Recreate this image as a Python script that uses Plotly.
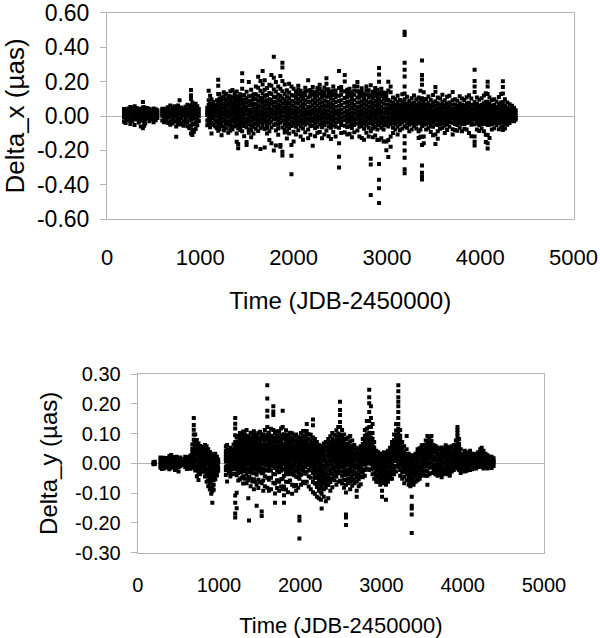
import plotly.graph_objects as go

# ---------------- Delta_x (top panel) ----------------
# observation epochs (JDB-2450000) and the values read at each epoch (in 0.001 uas)
dx_epochs = [
    182, 200, 228, 250, 272, 296, 318, 340, 362, 385, 398, 410, 432, 455, 478, 500, 522, 540,
    592, 612, 635, 655, 678, 700, 722, 742, 762, 778, 798, 820, 842, 862, 882, 900, 915, 932, 950, 968, 984,
    1075, 1090, 1105, 1120, 1140, 1160, 1178, 1192,
    1205, 1228, 1252, 1275, 1300, 1322, 1345, 1368, 1390, 1406, 1428, 1449, 1470, 1496, 1520, 1545, 1570,
    1595, 1620, 1645, 1668, 1690, 1715, 1740, 1762, 1788, 1810, 1835, 1858, 1880, 1905, 1928, 1952, 1977,
    2000, 2025, 2050, 2075, 2100, 2125, 2156, 2180, 2205, 2230, 2255, 2280, 2305, 2330, 2352, 2375, 2400,
    2425, 2450, 2487, 2510, 2548, 2575, 2600, 2625, 2650, 2684, 2705, 2730, 2755, 2780, 2805, 2827, 2850,
    2875, 2898, 2916, 2940, 2965, 2994,
    3015, 3040, 3065, 3090, 3115, 3140, 3165, 3190, 3215, 3240, 3265,
    3290, 3315, 3340, 3360, 3376, 3395, 3420, 3445, 3470, 3495, 3520, 3545, 3570, 3595, 3620, 3645, 3670,
    3705, 3730, 3755, 3780, 3805, 3830, 3855, 3880, 3905, 3940, 3965, 3990, 4015, 4040, 4060, 4080, 4100,
    4125, 4150, 4175, 4200, 4225, 4243, 4265, 4290, 4315, 4340, 4362, 4380,
]
dx_values = [
    [22, -8, -33, 6, 41], [37, 12, -19, -41, 3], [17, -4, 43, 27, -22], [52, 31, -26, 2, -47, 14],
    [46, 9, -29, 21, -12], [38, -16, 57, -52, 4, 24], [31, -1, -21, 47, 13], [26, -38, 8, 36, -17],
    [42, -6, 19, -27, -61, 3], [81, 32, -9, -71, 14, 49], [51, 6, -34, -56, 26, -13], [36, -21, 11, -44, 24],
    [47, 16, -11, 27, 2], [29, -31, 6, 41, -14], [34, -2, -19, 21, 9], [44, 14, -16, -36, 28],
    [31, 4, -24, 39, -9], [19, -11, 34, 6],
    [29, 1, -26, 14, 42], [41, 11, -16, -36, 24], [26, -6, 44, -21, 8], [51, 19, -9, -41, 4, 33],
    [61, 24, -31, -2, -51, 11], [46, 9, -19, 34, -44, 21], [56, 21, -4, -34, 31, 7],
    [39, -1, -121, -61, 14, 26, -27], [61, 29, -14, -41, 9, 44], [91, 46, 14, -26, -49, 27],
    [49, 21, -11, -46, 36, 3], [41, 4, -31, 24, -56, 16], [54, 26, -16, 11, -39, 38],
    [66, 31, -1, -36, -59, 17], [49, 16, -24, -71, 34, 2], [151, 121, 99, 61, 19, -21, -56, -101, 37],
    [79, 41, -1, -44, -81, -111, 22], [61, 24, -16, -49, -91, 9, 42], [71, 34, -11, -39, -76, 14],
    [56, 19, -21, -54, 4, 33], [41, -1, -29, 21],
    [48, 17, -26, -54, 6, 31], [146, 92, 39, -11, -46, 64, 12], [118, 71, 22, -29, -66, 44, -8],
    [97, 48, 1, -41, -102, 26, 69], [82, 29, -14, -51, 9, 54], [62, 18, -27, -61, 37, -3],
    [91, 42, 2, -36, -71, 63, 19], [211, 176, 128, 69, 21, -26, -59, -86, 44, 3],
    [128, 83, 57, 34, 12, -9, -22, -47, -76, 101, 5], [106, 66, 44, 27, -14, -38, -58, -112, 89, 3, 18],
    [138, 97, 71, 48, 21, 9, -17, -31, -62, -84, 113], [129, 92, 63, 39, 24, -2, -28, -45, -73, 7, 52],
    [118, 79, 58, 31, 16, -6, -33, -51, -97, 104, 72], [144, 88, 67, 42, 19, 2, -24, -48, -68, -86, 113],
    [151, 107, 82, 61, 36, 13, -11, -29, -56, -77, 47], [133, 112, 74, 53, 29, 7, -15, -36, -61, 91, 22],
    [142, 98, 76, 51, 33, 14, -8, -27, -53, -101, -149], [114, 87, 61, 38, 17, -5, -24, -49, -72, -163, -188],
    [127, 96, 69, 43, 26, 3, -19, -41, -64, -82, 111], [249, 203, 158, 119, 93, 66, 41, 22, -4, -28, -51, -89],
    [121, 94, 71, 49, 26, 11, -13, -37, -58, -118, 84], [141, 103, 78, 53, 34, 9, -17, -39, -66, -151, -168],
    [198, 114, 86, 62, 38, 19, -3, -26, -47, -79, -98], [152, 117, 88, 64, 37, 16, -7, -31, -57, -82, -123],
    [126, 99, 73, 52, 28, 4, -18, -42, -63, -101, 112],
    [172, 126, 97, 68, 44, 23, 1, -22, -46, -74, -178], [228, 164, 118, 89, 63, 42, 17, -6, -29, -53, -87],
    [203, 146, 104, 83, 57, 31, 9, -16, -38, -71, -192], [262, 183, 131, 102, 77, 51, 28, 6, -19, -43, -62],
    [208, 152, 114, 86, 61, 37, 12, -14, -34, -76, -183], [163, 122, 91, 69, 43, 21, -2, -27, -48, -68, -102],
    [181, 134, 98, 71, 47, 26, 3, -21, -44, -88, -139], [238, 176, 128, 93, 68, 39, 18, -7, -33, -67, -158],
    [344, 222, 154, 112, 81, 56, 31, 8, -18, -52, -201], [198, 143, 107, 78, 52, 29, 6, -17, -43, -84, -172],
    [172, 124, 93, 66, 41, 17, -8, -28, -51, -73, -109], [232, 158, 116, 87, 59, 33, 11, -12, -39, -168, -179],
    [309, 282, 203, 144, 103, 74, 48, 23, -3, -29, -67, -229, -208],
    [183, 128, 94, 71, 46, 22, -1, -24, -49, -78, -96], [149, 113, 82, 58, 33, 12, -11, -33, -59, -92, -131],
    [187, 136, 101, 76, 48, 27, 4, -19, -46, -71, -102],
    [171, 122, 89, 63, 38, 16, -7, -32, -58, -168, -231, -339],
    [158, 117, 86, 59, 34, 13, -12, -36, -54, -91, -148], [143, 104, 77, 49, 28, 6, -18, -39, -63, -108, 124],
    [176, 127, 98, 72, 44, 21, -4, -27, -48, -83, 153], [147, 112, 84, 57, 31, 9, -14, -37, -61, -119, 131],
    [132, 97, 69, 47, 22, 1, -23, -44, -72, -138, 114], [164, 121, 92, 67, 39, 18, -6, -29, -51, -94, 143],
    [207, 146, 108, 81, 53, 28, 7, -17, -42, -79, -129], [151, 114, 83, 56, 32, 11, -13, -34, -58, -109, 128],
    [169, 123, 91, 64, 38, 16, -9, -31, -57, -173, 142], [137, 102, 76, 48, 26, 3, -21, -43, -69, -118, 119],
    [162, 118, 88, 61, 34, 12, -11, -33, -62, -98, 141], [182, 131, 97, 73, 46, 23, -1, -22, -48, -93, 157],
    [144, 107, 79, 52, 27, 6, -16, -41, -66, -129, 123], [166, 119, 89, 62, 37, 14, -8, -32, -54, -107, 138],
    [219, 153, 112, 84, 56, 31, 9, -14, -38, -84, 187], [156, 113, 82, 58, 33, 9, -12, -36, -61, -118, 134],
    [139, 103, 74, 51, 24, 2, -21, -46, -68, -134, 121],
    [171, 122, 93, 66, 41, 17, -6, -27, -54, -93, 147], [148, 109, 81, 54, 29, 8, -16, -39, -63, -119, 126],
    [261, 163, 118, 87, 59, 34, 12, -11, -34, -68, -159, -237, -299],
    [168, 124, 92, 64, 38, 14, -8, -31, -53, -99, 146], [238, 201, 144, 104, 77, 48, 22, -2, -24, -56, -94],
    [152, 111, 82, 57, 29, 7, -17, -38, -64, -108, 129], [158, 117, 86, 61, 36, 12, -11, -33, -59, -103, 137],
    [136, 98, 72, 46, 21, -1, -24, -48, -69, -123, 118], [173, 124, 91, 64, 39, 16, -7, -29, -53, -94, 148],
    [198, 144, 107, 78, 51, 27, 4, -19, -43, -84, 171], [142, 106, 79, 53, 28, 6, -17, -39, -63, -119, 124],
    [161, 116, 84, 59, 33, 11, -13, -36, -58, -128, 139], [129, 96, 71, 44, 19, -3, -26, -47, -74, -138, 112],
    [171, 123, 89, 63, 37, 13, -9, -31, -54, -98, 149], [149, 109, 78, 52, 27, 4, -18, -43, -68, -119, 127],
    [178, 117, 84, 56, 31, 8, -16, -41, -88, -249, -281, -459],
    [141, 103, 73, 47, 22, -2, -26, -49, -73, -124, 122],
    [163, 119, 87, 61, 34, 11, -12, -37, -64, -113, 142], [152, 108, 77, 49, 23, -4, -28, -53, -78, -139, 127],
    [279, 241, 199, 131, 96, 68, 41, 17, -9, -34, -51, -138, -279, -371, -419, -506],
    [158, 116, 83, 54, 29, 6, -18, -42, -68, -129, 136], [137, 98, 71, 44, 19, -6, -29, -54, -79, -148, 118],
    [133, 92, 66, 41, 17, -8, -32, -52, -148, -199, 112],
    [199, 148, 93, 67, 43, 21, 2, -19, -38, -61, -139, -238], [172, 138, 84, 58, 36, 13, -7, -26, -47, -119, -179],
    [107, 76, 54, 33, 16, -4, -22, -41, -68, -99], [98, 68, 49, 29, 11, -9, -27, -46, -78],
    [117, 81, 59, 37, 19, 1, -16, -36, -63, -108], [93, 64, 46, 24, 8, -12, -29, -47, -83],
    [127, 86, 62, 41, 22, 3, -18, -38, -73],
    [489, 471, 309, 268, 229, 172, 131, 98, 74, 53, 31, 12, -9, -28, -59, -118, -158, -201, -242, -309, -332],
    [112, 71, 51, 29, 13, -7, -24, -42, -68], [87, 62, 43, 22, 6, -13, -31, -51, -89],
    [103, 73, 52, 31, 14, -6, -23, -44, -79],
    [119, 78, 57, 36, 17, -2, -19, -37, -58], [96, 66, 47, 26, 9, -11, -28, -47, -73],
    [108, 74, 53, 34, 16, -3, -21, -39, -89, -128], [147, 94, 66, 43, 24, 4, -16, -42, -78, -121],
    [322, 238, 212, 181, 103, 71, 48, 26, 7, -14, -33, -58, -122, -169, -287, -329, -352, -369],
    [138, 84, 58, 36, 14, -6, -26, -51, -119, -158], [99, 67, 46, 27, 9, -11, -29, -47, -79],
    [113, 76, 54, 31, 13, -8, -24, -41, -69], [94, 62, 41, 22, 4, -16, -33, -56, -93],
    [122, 79, 57, 34, 16, -3, -22, -37, -63, -112], [169, 141, 86, 61, 38, 17, -4, -23, -48, -108, -162],
    [108, 74, 51, 29, 11, -9, -27, -52, -88, -132], [102, 66, 46, 26, 8, -12, -31, -46, -74],
    [123, 81, 58, 36, 17, -2, -21, -42, -68], [92, 63, 43, 21, 3, -17, -34, -56, -99],
    [112, 71, 49, 28, 12, -8, -26, -46, -82], [118, 79, 56, 37, 18, -1, -19, -37, -63],
    [139, 92, 67, 44, 23, 4, -16, -39, -77, -108], [98, 66, 44, 24, 7, -13, -29, -47, -81],
    [89, 59, 39, 19, 1, -18, -36, -52, -86], [114, 74, 53, 32, 14, -6, -24, -42, -68],
    [101, 67, 47, 27, 9, -12, -29, -46, -89], [93, 61, 42, 21, 3, -16, -32, -47, -74],
    [109, 72, 51, 31, 13, -7, -23, -41, -79], [121, 77, 54, 33, 16, -3, -21, -36, -99],
    [102, 66, 44, 24, 6, -14, -31, -51, -118],
    [268, 203, 171, 139, 81, 58, 37, 16, -4, -22, -48, -119, -149, -171],
    [107, 69, 48, 28, 11, -9, -27, -42, -78], [94, 59, 41, 21, 3, -16, -34, -52, -87],
    [103, 66, 46, 26, 8, -11, -28, -47, -73], [119, 74, 52, 31, 13, -6, -24, -43, -89],
    [132, 83, 59, 36, 16, -4, -23, -46, -109, -151],
    [199, 171, 128, 81, 57, 36, 14, -7, -26, -53, -111, -159, -189],
    [108, 69, 47, 27, 9, -12, -31, -51, -128],
    [92, 58, 39, 19, 2, -17, -33, -46, -79], [98, 64, 44, 24, 7, -12, -27, -42, -71],
    [84, 53, 34, 17, -1, -19, -36, -52], [111, 68, 47, 28, 11, -8, -26, -41, -77],
    [128, 79, 56, 34, 16, -4, -21, -37, -66], [202, 168, 131, 82, 57, 33, 14, -6, -24, -59, -81],
    [97, 58, 37, 18, 1, -18, -33, -47, -72], [78, 48, 29, 11, -6, -23, -38, -51],
    [68, 42, 24, 7, -9, -24, -41], [59, 36, 19, 3, -12, -29], [48, 27, 11, -4, -17, -31],
    [34, 16, 1, -12, -22],
]

# ---------------- Delta_y (bottom panel) ----------------
dy_epochs = [
    195, 210, 280, 300, 322, 345, 368, 390, 412, 435, 458, 480, 502, 525, 545,
    585, 605, 628, 650, 672, 690, 708, 728, 748, 768, 788, 808, 828, 848, 868, 888, 905, 918, 935, 955, 975, 990,
    1085, 1100, 1120, 1140, 1160, 1180, 1200, 1218, 1238, 1258, 1278, 1298, 1318, 1340, 1361, 1370, 1390,
    1410, 1430, 1450, 1464, 1485, 1505, 1526, 1545,
    1565, 1595, 1615, 1640, 1669, 1690, 1715, 1740, 1765, 1784, 1800, 1825, 1850, 1875, 1900, 1925, 1950,
    1975, 1990, 2010, 2035, 2060, 2080, 2105, 2130, 2157, 2180, 2205, 2230, 2255, 2264, 2290, 2315, 2345,
    2370, 2395, 2420, 2445, 2468, 2490, 2515, 2540, 2563, 2590, 2615, 2640, 2665, 2695, 2720, 2745, 2770,
    2795, 2820, 2849, 2870, 2890, 2910, 2935, 2960, 2985, 3007, 3030, 3055, 3080, 3105, 3130, 3155, 3180,
    3207, 3230, 3255, 3280, 3310, 3335, 3355, 3372, 3395, 3420, 3445, 3470, 3495, 3520, 3545, 3565, 3590,
    3615, 3640, 3665, 3690, 3715, 3740, 3765, 3790, 3815, 3840, 3865, 3890, 3915, 3935, 3955, 3975, 4000,
    4025, 4050, 4075, 4090, 4115, 4140, 4165, 4190, 4215, 4233, 4255, 4280, 4305, 4330, 4355, 4380,
]
dy_values = [
    [0, 4, -3], [-2, 5, 1], [12, -5, -15, 3, 20], [15, 2, -9, -19, 8], [8, -8, -17, 19, 1],
    [12, 0, -12, -5, 6], [18, 6, -8, -15, 11], [10, -3, -20, 25, 3], [28, 12, -5, -12, 4, 19],
    [15, 0, -15, 6, -7], [21, 5, -10, -22, 13], [10, -5, -15, 22, 2], [18, 2, -12, -27, 9],
    [12, 0, -10, 20, -4], [8, -5, 15, 1],
    [15, 1, -12, 8, -5, 22], [18, 6, -9, -19, 11, -2], [21, 3, -14, 10, -6, 14], [26, 11, -7, -18, 3, 17, -12],
    [63, 37, 19, 2, -13, 48, 27, 9, -6], [152, 129, 113, 97, 79, 64, 46, 37, 21, 12, -3, -14],
    [97, 74, 58, 51, 34, 27, 12, 5, -11, -24, 43], [78, 61, 53, 36, 29, 14, 7, -8, -19, -43, 44],
    [67, 54, 38, 31, 17, 9, -6, -16, -32, -56, 46], [58, 49, 33, 24, 12, 1, -14, -23, -37, 41],
    [56, 41, 33, 18, 9, -4, -13, -28, 26], [48, 38, 24, 16, 2, -8, -22, 31],
    [62, 46, 37, 22, 14, -1, -11, -28, -44, 53], [57, 44, 29, 21, 6, -4, -19, -32, -42, -62, 11],
    [47, 33, 22, 8, -2, -17, -27, -42, -57, -77, 14], [38, 28, 13, 4, -12, -21, -37, -48, -66, -88, 21],
    [32, 17, 7, -8, -18, -33, -44, -62, -83, -102, 24], [22, 9, -3, -18, -28, -44, -57, -77, -94, -132, 13],
    [27, 11, 1, -15, -26, -43, -56, -72, -89, -6], [32, 16, 6, -10, -21, -37, -53, 23],
    [22, 8, -7, -18, -34, -41, 14], [13, 2, -13, -25, 6],
    [57, 42, 31, 14, 6, -11, -23, -39, 22], [62, 46, 36, 19, 9, -7, -18, -61, 27],
    [43, 32, 17, 7, -8, -17, -32, 24], [52, 37, 27, 12, 2, -12, -25, -44, 19],
    [42, 28, 18, 3, -9, -20, -37, 11], [63, 47, 38, 22, 12, -3, -15, -35, 29],
    [152, 133, 117, 94, 72, 56, 44, 31, 19, 7, -6, -18, -36, -108, -132, -168, -182],
    [87, 69, 61, 42, 33, 16, 8, -11, -21, -40, -99, -151, 52, 24],
    [92, 73, 63, 46, 36, 19, 11, -6, -16, -32, -58, 54, 27, 1],
    [102, 84, 66, 57, 39, 31, 12, 3, -13, -25, -53, 47, 21],
    [97, 77, 67, 49, 39, 22, 13, -4, -15, -30, -48, 58, 29, 3],
    [107, 87, 73, 54, 46, 29, 19, 1, -10, -22, -43, -68, 63, 36],
    [98, 83, 64, 56, 37, 28, 11, 1, -15, -26, -52, 47, 19],
    [112, 91, 78, 59, 49, 32, 23, 6, -5, -21, -38, -67, 69, 41, 14],
    [93, 79, 61, 52, 34, 24, 7, -2, -19, -30, -57, -117, 44, 16],
    [82, 64, 54, 36, 26, 9, -1, -17, -28, -46, -192, 46, 18],
    [103, 88, 69, 61, 41, 32, 14, 4, -12, -23, -51, -77, 53, 23],
    [101, 81, 71, 51, 42, 24, 14, -3, -14, -33, -61, 59, 31, 6],
    [108, 92, 72, 62, 44, 34, 17, 7, -9, -21, -53, -87, 51, 26],
    [97, 78, 67, 47, 38, 21, 11, -5, -16, -33, -62, 56, 29, 2],
    [92, 73, 62, 44, 34, 17, 8, -9, -20, -38, -72, -142, 51, 24],
    [102, 83, 72, 52, 43, 26, 16, -1, -11, -27, -55, -83, 61, 33, 7],
    [106, 87, 69, 58, 41, 29, 13, 3, -12, -26, -62, 49, 21],
    [93, 79, 60, 49, 32, 22, 6, -4, -20, -33, -67, -162, -177, 41, 14],
    [98, 83, 64, 54, 36, 26, 9, -1, -18, -30, -58, -92, 46, 18],
    [112, 89, 76, 57, 46, 29, 19, 3, -8, -24, -43, -77, 63, 37, 11],
    [262, 218, 177, 157, 122, 97, 81, 62, 52, 34, 24, 7, -4, -22, -48, -82, 41, 14],
    [103, 87, 69, 58, 41, 31, 13, 3, -13, -25, -55, -92, 49, 22],
    [116, 93, 79, 59, 49, 31, 21, 4, -7, -23, -48, -87, 66, 38, 12],
    [192, 174, 162, 112, 88, 76, 56, 47, 29, 19, 2, -9, -36, -65, 37, 11],
    [102, 82, 69, 51, 41, 24, 14, -4, -16, -37, -68, -101, -132, 57, 29],
    [108, 93, 74, 61, 44, 34, 16, 6, -11, -23, -57, -83, 52, 24],
    [106, 86, 73, 54, 44, 26, 16, -1, -12, -30, -62, -92, 59, 33, 7],
    [117, 95, 81, 62, 49, 33, 22, 6, -6, -25, -53, -78, 68, 39, 14],
    [177, 122, 96, 83, 64, 54, 36, 26, 9, -2, -18, -52, -87, 44, 16],
    [98, 83, 66, 53, 36, 26, 8, -3, -21, -42, -78, -107, -132, 44, 16],
    [111, 89, 76, 56, 46, 28, 18, 1, -11, -30, -62, -88, 64, 36, 9],
    [97, 78, 66, 47, 38, 21, 9, -7, -19, -37, -63, -97, 52, 27],
    [103, 88, 69, 58, 41, 29, 12, 2, -16, -28, -58, 49, 21, -4],
    [101, 79, 68, 49, 39, 21, 11, -6, -18, -37, -72, -102, 56, 27],
    [89, 76, 57, 46, 29, 19, 2, -9, -27, -40, -77, 38, 12],
    [97, 77, 64, 46, 34, 17, 7, -11, -23, -45, -73, -92, 53, 26],
    [88, 73, 56, 44, 26, 16, -2, -13, -31, -47, -82, 38, 9],
    [87, 67, 54, 37, 27, 9, -1, -19, -33, -52, -179, -192, -252, 44, 16],
    [102, 82, 68, 51, 39, 22, 12, -6, -18, -38, -72, 59, 31, 4],
    [109, 93, 74, 62, 46, 34, 17, 6, -11, -25, -62, 54, 27],
    [107, 87, 73, 56, 44, 27, 16, -2, -12, -35, -67, 63, 36, 8],
    [132, 109, 96, 78, 66, 48, 38, 21, 9, -7, -28, -62, 57, 29],
    [98, 82, 64, 52, 36, 24, 7, -4, -22, -43, -78, 43, 16],
    [96, 76, 62, 44, 33, 16, 6, -12, -24, -48, -87, 52, 26, -1],
    [147, 128, 87, 68, 56, 38, 28, 11, -1, -17, -32, -63, -97, 47, 19],
    [82, 66, 49, 38, 20, 9, -7, -18, -37, -49, -68, -102, 57, 28, -26],
    [72, 59, 41, 27, 13, -2, -21, -30, -47, -66, -79, -112, 49, 4],
    [62, 48, 33, 17, 6, -13, -25, -44, -55, -74, -92, -117, 24, -34],
    [57, 41, 27, 14, -4, -17, -33, -48, -62, -79, -97, -122, 1, -56],
    [52, 36, 19, 7, -11, -24, -38, -53, -71, -84, -102, -152, 44, -63],
    [67, 52, 39, 21, 8, -9, -24, -36, -54, -68, -87, -112, 29, -45],
    [72, 57, 43, 26, 12, -4, -17, -33, -49, -62, -82, -127, 0, -71],
    [82, 67, 52, 34, 22, 6, -9, -24, -39, -57, -73, -117, 44, -48],
    [91, 71, 57, 39, 28, 11, -2, -19, -32, -51, -63, -92, 48, 19],
    [102, 82, 68, 49, 38, 21, 9, -8, -20, -37, -52, -80, 58, 29],
    [96, 76, 62, 44, 33, 16, 4, -13, -26, -42, -57, 52, 24],
    [111, 89, 76, 57, 45, 28, 16, -1, -12, -29, -44, -72, 66, 37, 7],
    [122, 99, 86, 66, 54, 37, 25, 8, -3, -21, -33, -62, 74, 44, 16],
    [207, 179, 162, 139, 122, 97, 82, 63, 51, 36, 18, 6, -11, -27, -58, 43, 27],
    [112, 91, 77, 58, 47, 29, 18, 1, -11, -27, -42, -68, 68, 38, 9],
    [97, 78, 64, 46, 35, 17, 6, -11, -23, -40, -55, -82, 54, 26],
    [82, 63, 51, 32, 21, 3, -8, -26, -38, -56, -72, -98, -172, -182, -207, 41, 12],
    [87, 67, 54, 36, 26, 7, -4, -22, -34, -52, -67, 45, 16],
    [92, 73, 59, 41, 31, 12, 1, -16, -28, -46, -62, -87, 51, 21],
    [77, 58, 46, 28, 17, -1, -11, -28, -42, -57, -75, 36, 8],
    [62, 47, 33, 19, 5, -9, -23, -37, -53, -67, 26],
    [52, 39, 24, 11, -4, -16, -32, -47, -62, -92, -112, 31],
    [47, 33, 21, 6, -9, -21, -38, -53, -77, 14],
    [57, 44, 27, 16, 1, -12, -27, -44, -70, 36],
    [82, 65, 53, 36, 25, 8, -3, -20, -31, -47, 45, 16],
    [112, 93, 80, 62, 51, 34, 23, 6, -5, -22, -42, 71, 43, 14],
    [142, 117, 98, 86, 68, 56, 38, 27, 11, -1, -17, 77, 47, 19],
    [247, 222, 202, 172, 142, 122, 103, 91, 73, 61, 43, 32, 14, 3, -22, 82, 52, 24],
    [192, 152, 122, 102, 87, 69, 58, 39, 28, 12, -1, -20, 78, 47, 18],
    [132, 102, 83, 71, 53, 41, 23, 12, -6, -18, -37, 62, 32, 4],
    [72, 53, 41, 23, 12, -5, -16, -33, -52, 31, 2],
    [42, 31, 16, 4, -9, -23, -38, -47, -62, -15],
    [37, 23, 12, -2, -13, -27, -41, -54, -62, 29],
    [32, 19, 7, -6, -21, -33, -46, -58, -72, 24],
    [27, 14, 3, -12, -26, -38, -53, -64, -92, -112, -44],
    [37, 27, 11, -3, -17, -29, -44, -55, -67, 19],
    [32, 21, 6, -7, -19, -34, -47, -59, -72, -122, -26],
    [42, 28, 16, 1, -11, -27, -39, -51, -62, 34],
    [52, 39, 27, 12, -1, -15, -28, -41, -52, 19],
    [72, 61, 44, 29, 18, 3, -9, -24, -37, -52, 51],
    [97, 78, 65, 47, 36, 19, 8, -9, -20, -37, 57, 28],
    [132, 110, 95, 76, 64, 47, 36, 19, 8, -9, -27, 86, 57, 27],
    [262, 242, 222, 207, 192, 172, 152, 132, 117, 102, 86, 73, 57, 46, 29, 17, 1, -12, 64, 38, 9],
    [112, 93, 80, 62, 51, 34, 23, 6, -5, -22, -42, 71, 43, 14],
    [72, 56, 44, 27, 16, -1, -12, -30, -52, 35, 7],
    [57, 41, 29, 12, 1, -16, -27, -45, -67, 21, -6],
    [92, 47, 31, 19, 3, -9, -25, -37, -57, 11, -17],
    [32, 21, 8, -6, -19, -31, -46, -58, -72, -37],
    [27, 13, 2, -11, -26, -38, -51, -63, -77, 18],
    [22, 9, -4, -17, -29, -44, -56, -66, -112, -142, -152, -172, -234, -37],
    [27, 16, 1, -13, -24, -37, -52, -61, -72, 12],
    [32, 19, 8, -7, -21, -33, -46, -62, 22],
    [37, 26, 12, -2, -16, -29, -41, -57, 47],
    [42, 29, 17, 3, -11, -24, -38, -52, 51],
    [52, 41, 27, 13, -1, -14, -27, -42, 61],
    [62, 46, 34, 18, 6, -10, -24, -37, 26, -2],
    [77, 60, 48, 32, 20, 4, -10, -24, -42, 40, 12],
    [92, 75, 62, 46, 34, 18, 4, -10, -27, -42, -72, 54, 26],
    [87, 70, 57, 41, 29, 13, -1, -15, -37, 49, 21],
    [92, 75, 62, 45, 33, 17, 3, -11, -32, 53, 25],
    [62, 49, 37, 21, 9, -6, -19, -32, 42],
    [47, 36, 22, 11, -4, -17, -29, -37, 58],
    [42, 31, 17, 4, -9, -22, -34, -42, 53],
    [47, 33, 24, 8, -5, -19, -31, -37, 16],
    [37, 28, 14, 1, -12, -24, -38, -47, 53],
    [42, 29, 19, 3, -11, -26, -37, 48],
    [52, 39, 27, 13, 1, -14, -24, -32, 61],
    [47, 35, 21, 8, -6, -17, -29, -37, 56],
    [42, 31, 16, 2, -12, -26, -35, -42, 52],
    [57, 41, 29, 13, 1, -15, -27, 21, -7],
    [62, 46, 34, 18, 6, -10, -22, 26, -2],
    [77, 60, 48, 32, 20, 4, -10, 40, 12],
    [122, 112, 102, 92, 78, 67, 51, 39, 23, 11, -5, -17, 59, 31],
    [82, 65, 53, 37, 25, 9, -5, -22, 45, 17],
    [47, 31, 19, 3, -9, -25, -32, 11, -17],
    [32, 18, 8, -6, -16, -22, 1],
    [42, 28, 18, 4, -6, -20, -27, 11], [37, 23, 13, -1, -11, -25, 6], [32, 18, 8, -6, -17, 1],
    [42, 28, 18, 4, -6, -22, 11], [32, 18, 8, -6, -20, 1], [27, 13, 3, -11, -17, -4],
    [32, 18, 8, -6, -17, 1], [37, 23, 13, -1, -12, 6], [47, 33, 23, 9, -1, -12, 16],
    [52, 40, 30, 16, 6, -7, 23], [42, 28, 18, 4, -6, -17, 11], [32, 18, 8, -6, -12, 1],
    [27, 13, 3, -11, -17, -4], [22, 8, -2, -12, 3], [22, 8, -4, -16, 2], [17, 3, -9, 6],
]

x_ticks = [0, 1000, 2000, 3000, 4000, 5000]
dx_ticks = [-0.6, -0.4, -0.2, 0.0, 0.2, 0.4, 0.6]
dx_ticktext = ["-0.60", "-0.40", "-0.20", "0.00", "0.20", "0.40", "0.60"]
dy_ticks = [-0.3, -0.2, -0.1, 0.0, 0.1, 0.2, 0.3]
dy_ticktext = ["-0.30", "-0.20", "-0.10", "0.00", "0.10", "0.20", "0.30"]


def flatten(epochs, values):
    xs, ys = [], []
    for t, vals in zip(epochs, values):
        for v in vals:
            xs.append(t)
            ys.append(v / 1000.0)
    return xs, ys


dx_x, dx_y = flatten(dx_epochs, dx_values)
dy_x, dy_y = flatten(dy_epochs, dy_values)

FONT = "Liberation Sans, Arial, sans-serif"
GRAY = "#b4b4b4"
marker = dict(symbol="square", size=4, color="#000000", line=dict(width=0))

fig = go.Figure()
fig.add_trace(go.Scatter(x=dx_x, y=dx_y, mode="markers", marker=marker,
                         xaxis="x", yaxis="y", showlegend=False, hoverinfo="skip"))
fig.add_trace(go.Scatter(x=dy_x, y=dy_y, mode="markers", marker=marker,
                         xaxis="x2", yaxis="y2", showlegend=False, hoverinfo="skip"))

W, H = 600, 638
top_px = dict(l=107, r=573.5, t=12.7, b=219.3)
bot_px = dict(l=137.7, r=544, t=374, b=552.7)

common_x = dict(range=[0, 5000], tickvals=x_ticks, showgrid=False, zeroline=False,
                showline=True, mirror=True, linecolor=GRAY, linewidth=1, ticks="",
                automargin=False, ticklabeloverflow="allow")
common_y = dict(showgrid=False, zeroline=True, zerolinecolor=GRAY, zerolinewidth=1,
                showline=True, mirror=True, linecolor=GRAY, linewidth=1,
                ticks="outside", ticklen=6, tickcolor=GRAY, tickwidth=1,
                automargin=False, ticklabeloverflow="allow")

fig.update_layout(
    width=W, height=H,
    margin=dict(l=0, r=0, t=0, b=0),
    paper_bgcolor="white", plot_bgcolor="white",
    font=dict(family=FONT, color="#000000"),
    xaxis=dict(common_x,
               domain=[top_px["l"] / W, top_px["r"] / W],
               anchor="y",
               tickfont=dict(size=22), ticklabelstandoff=18,
               title=dict(text="Time (JDB-2450000)", font=dict(size=24), standoff=23)),
    yaxis=dict(common_y,
               domain=[1 - top_px["b"] / H, 1 - top_px["t"] / H],
               anchor="x", range=[-0.6, 0.6],
               tickvals=dx_ticks, ticktext=dx_ticktext,
               tickfont=dict(size=23), ticklabelstandoff=6,
               title=dict(text="Delta_x (µas)", font=dict(size=26), standoff=4)),
    xaxis2=dict(common_x,
                domain=[bot_px["l"] / W, bot_px["r"] / W],
                anchor="y2",
                tickfont=dict(size=20), ticklabelstandoff=14,
                title=dict(text="Time (JDB-2450000)", font=dict(size=22), standoff=22)),
    yaxis2=dict(common_y,
                domain=[1 - bot_px["b"] / H, 1 - bot_px["t"] / H],
                anchor="x2", range=[-0.3, 0.3],
                tickvals=dy_ticks, ticktext=dy_ticktext,
                tickfont=dict(size=20), ticklabelstandoff=6,
                title=dict(text="Delta_y (µas)", font=dict(size=24), standoff=10)),
)

# remove the browser's default 8px page margin so the figure sits at the window origin
fig.write_html("out.html", config={"displayModeBar": False},
               post_script="document.body.style.margin='0px';")
